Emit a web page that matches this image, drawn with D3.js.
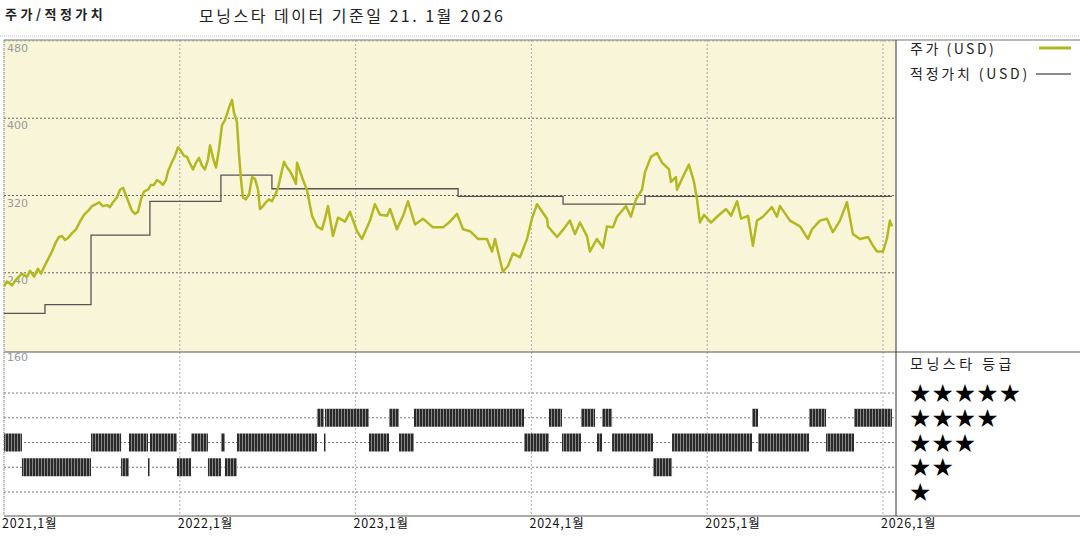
<!DOCTYPE html>
<html><head><meta charset="utf-8">
<script src="https://cdn.jsdelivr.net/npm/d3@7"></script>
<style>body{margin:0;background:#fff;font-family:"Noto Sans CJK KR","DejaVu Sans",sans-serif}</style>
</head><body><svg id="c" width="1080" height="540"></svg>
<script>
// price: [fractional year, USD]
const priceT = [2021.000,2021.017,2021.046,2021.074,2021.102,2021.131,2021.148,2021.171,2021.193,2021.210,2021.228,2021.245,2021.273,2021.296,2021.313,2021.330,2021.347,2021.364,2021.387,2021.410,2021.432,2021.455,2021.478,2021.501,2021.523,2021.540,2021.563,2021.586,2021.603,2021.620,2021.643,2021.660,2021.677,2021.694,2021.711,2021.728,2021.745,2021.762,2021.779,2021.796,2021.819,2021.836,2021.853,2021.870,2021.887,2021.904,2021.921,2021.933,2021.956,2021.973,2021.990,2022.007,2022.024,2022.041,2022.058,2022.075,2022.092,2022.109,2022.126,2022.143,2022.160,2022.172,2022.189,2022.206,2022.223,2022.240,2022.257,2022.280,2022.297,2022.308,2022.325,2022.337,2022.348,2022.359,2022.376,2022.394,2022.411,2022.428,2022.445,2022.456,2022.473,2022.490,2022.507,2022.524,2022.541,2022.559,2022.576,2022.593,2022.610,2022.627,2022.644,2022.661,2022.667,2022.701,2022.723,2022.752,2022.780,2022.809,2022.826,2022.843,2022.871,2022.900,2022.940,2022.968,2023.008,2023.036,2023.082,2023.110,2023.139,2023.179,2023.196,2023.235,2023.270,2023.298,2023.338,2023.383,2023.440,2023.497,2023.531,2023.577,2023.611,2023.651,2023.696,2023.747,2023.776,2023.793,2023.810,2023.838,2023.867,2023.895,2023.935,2023.975,2024.003,2024.032,2024.089,2024.094,2024.146,2024.191,2024.219,2024.248,2024.276,2024.316,2024.333,2024.373,2024.407,2024.430,2024.464,2024.487,2024.538,2024.566,2024.595,2024.629,2024.646,2024.680,2024.714,2024.743,2024.783,2024.794,2024.822,2024.828,2024.856,2024.896,2024.925,2024.942,2024.959,2024.982,2025.022,2025.056,2025.107,2025.136,2025.170,2025.193,2025.232,2025.260,2025.283,2025.317,2025.368,2025.397,2025.414,2025.471,2025.528,2025.573,2025.596,2025.641,2025.681,2025.715,2025.755,2025.795,2025.829,2025.869,2025.915,2025.943,2025.966,2026.000,2026.022,2026.039,2026.051];
const priceV = [226,231,227,234,239,236,242,236,244,239,246,252,262,272,277,278,274,276,281,285,293,300,304,309,311,313,309,310,308,313,318,326,328,320,312,304,301,303,316,324,326,331,331,336,334,331,336,345,355,361,370,366,361,360,353,347,354,359,351,347,357,372,359,349,368,393,398,411,419,406,396,362,337,318,316,321,339,337,326,306,309,313,316,314,320,328,342,355,349,345,339,332,354,336,326,299,288,285,296,309,278,297,293,303,283,275,294,311,300,299,306,285,299,314,290,296,287,287,292,301,285,283,275,275,262,275,262,241,247,260,256,275,296,311,296,288,277,287,294,280,292,278,262,275,266,288,287,298,309,298,316,326,344,360,364,354,347,334,339,326,337,352,334,316,292,300,292,298,306,299,314,296,299,268,294,298,308,298,309,294,288,275,285,294,296,282,294,313,280,275,277,268,262,262,275,294,288];
// fair value steps: start time, value
const fairT = [2021.000,2021.233,2021.495,2021.830,2022.234,2022.524,2023.583,2024.180,2024.646];
const fairV = [198,207,279,314,341,327,319,311,319];
const fairEnd = 2026.051;
// star rating segments: [start, end, stars]
const ratingSeg = [
 [2021.000,2021.102,3],[2021.102,2021.495,2],[2021.495,2021.666,3],[2021.666,2021.711,2],[2021.711,2021.819,3],[2021.819,2021.830,2],[2021.830,2021.984,3],
 [2021.984,2022.064,2],[2022.064,2022.160,3],[2022.160,2022.234,2],[2022.234,2022.257,3],[2022.257,2022.325,2],[2022.325,2022.780,3],
 [2022.780,2022.820,4],[2022.820,2022.826,3],[2022.826,2023.076,4],[2023.076,2023.190,3],[2023.190,2023.247,4],[2023.247,2023.332,3],[2023.332,2023.958,4],
 [2023.958,2024.100,3],[2024.100,2024.174,4],[2024.174,2024.282,3],[2024.282,2024.362,4],[2024.373,2024.402,3],[2024.402,2024.459,4],[2024.459,2024.692,3],
 [2024.692,2024.800,2],[2024.800,2025.255,3],[2025.255,2025.289,4],[2025.289,2025.579,3],[2025.579,2025.676,4],[2025.676,2025.835,3],[2025.835,2026.051,4]];
const yTicks = [480,400,320,240,160];
const years = [2021,2022,2023,2024,2025,2026];
const starLabels = ["★★★★★","★★★★","★★★","★★","★"];

const svg = d3.select("#c");
const L=4, R=896, T=40, M=352, B=516;
const x = d3.scaleLinear().domain([2021,2026]).range([L,883]);
const y = d3.scaleLinear().domain([160,480]).range([350,41]);
const ry = d3.scaleLinear().domain([1,5]).range([492,393]);

const defs = svg.append("defs");
const pat = defs.append("pattern").attr("id","st").attr("patternUnits","userSpaceOnUse").attr("width",3).attr("height",20);
pat.append("rect").attr("width",3).attr("height",20).attr("fill","#888");
pat.append("rect").attr("width",2).attr("height",20).attr("fill","#2a2a2a");

// titles
svg.append("text").attr("x",5).attr("y",19).attr("font-size",13).attr("font-weight","bold").attr("letter-spacing",3.5).attr("fill","#222").text("주가/적정가치");
svg.append("text").attr("x",199).attr("y",22).attr("font-size",16).attr("letter-spacing",2.5).attr("fill","#222").text("모닝스타 데이터 기준일 21. 1월 2026");
svg.append("line").attr("x1",0).attr("x2",1080).attr("y1",36).attr("y2",36).attr("stroke","#bbb").attr("stroke-dasharray","1,1");

// price panel bg
svg.append("rect").attr("x",L).attr("y",T).attr("width",R-L).attr("height",M-T).attr("fill","#f9f5d9");
// grids
const g = svg.append("g");
g.selectAll(".hy").data(yTicks.slice(0,4)).join("line").attr("x1",L).attr("x2",R).attr("y1",d=>y(d)).attr("y2",d=>y(d))
 .attr("stroke",d=>d===480?"#aaa":"#444").attr("stroke-dasharray","2,2").attr("stroke-width",0.8);
g.selectAll(".hr").data([5,4,3,2,1]).join("line").attr("x1",L).attr("x2",R).attr("y1",d=>ry(d)).attr("y2",d=>ry(d))
 .attr("stroke","#555").attr("stroke-dasharray","2,2").attr("stroke-width",0.8);
g.selectAll(".vx").data(years).join("line").attr("x1",d=>x(d)).attr("x2",d=>x(d)).attr("y1",T).attr("y2",B)
 .attr("stroke","#999").attr("stroke-dasharray","2,2").attr("stroke-width",0.8);
g.selectAll(".yl").data(yTicks).join("text").attr("x",L+3).attr("y",d=>y(d)+11).attr("font-size",11)
 .attr("fill","#999").attr("font-family","DejaVu Sans").text(d=>d);

// fair value step line
const fairPts = fairT.map((t,i)=>[t,fairV[i]]);
fairPts.push([fairEnd,fairV[fairV.length-1]]);
svg.append("path").attr("d",d3.line().curve(d3.curveStepAfter).x(d=>x(d[0])).y(d=>y(d[1]))(fairPts))
 .attr("fill","none").attr("stroke","#555").attr("stroke-width",1.3);
// price
svg.append("path").attr("d",d3.line().x((d,i)=>x(priceT[i])).y(d=>y(d))(priceV))
 .attr("fill","none").attr("stroke","#b3b821").attr("stroke-width",2.5).attr("stroke-linejoin","round");

// rating bars
svg.selectAll(".rb").data(ratingSeg).join("rect").attr("x",d=>x(d[0])).attr("width",d=>Math.max(1.5,x(d[1])-x(d[0])))
 .attr("y",d=>ry(d[2])-9).attr("height",18).attr("fill","url(#st)");

// frames
svg.append("line").attr("x1",L).attr("x2",1080).attr("y1",T).attr("y2",T).attr("stroke","#777");
svg.append("line").attr("x1",L).attr("x2",1080).attr("y1",M).attr("y2",M).attr("stroke","#555");
svg.append("line").attr("x1",L).attr("x2",1080).attr("y1",B).attr("y2",B).attr("stroke","#555");
svg.append("line").attr("x1",R).attr("x2",R).attr("y1",T).attr("y2",B).attr("stroke","#333");
svg.append("line").attr("x1",L).attr("x2",L).attr("y1",T).attr("y2",B).attr("stroke","#999").attr("stroke-dasharray","1,1");

// x labels
svg.selectAll(".xl").data(years).join("text").attr("x",d=>x(d)-2).attr("y",528).attr("font-size",12.5).attr("letter-spacing",0.8).attr("fill","#111")
 .text(d=>d+",1월");

// legend
svg.append("text").attr("x",910).attr("y",54).attr("font-size",14).attr("letter-spacing",2.5).attr("fill","#222").text("주가 (USD)");
svg.append("line").attr("x1",1039).attr("x2",1071).attr("y1",48).attr("y2",48).attr("stroke","#b3b821").attr("stroke-width",3);
svg.append("text").attr("x",910).attr("y",79).attr("font-size",14).attr("letter-spacing",2.8).attr("fill","#222").text("적정가치 (USD)");
svg.append("line").attr("x1",1036).attr("x2",1071).attr("y1",74).attr("y2",74).attr("stroke","#666").attr("stroke-width",1.3);
svg.append("text").attr("x",910).attr("y",369).attr("font-size",14).attr("letter-spacing",3.5).attr("fill","#222").text("모닝스타 등급");
svg.selectAll(".sl").data(starLabels).join("text").attr("x",909).attr("y",(d,i)=>ry(5-i)+9).attr("font-size",25)
 .attr("font-family","DejaVu Sans").attr("fill","#000").text(d=>d);
</script></body></html>
